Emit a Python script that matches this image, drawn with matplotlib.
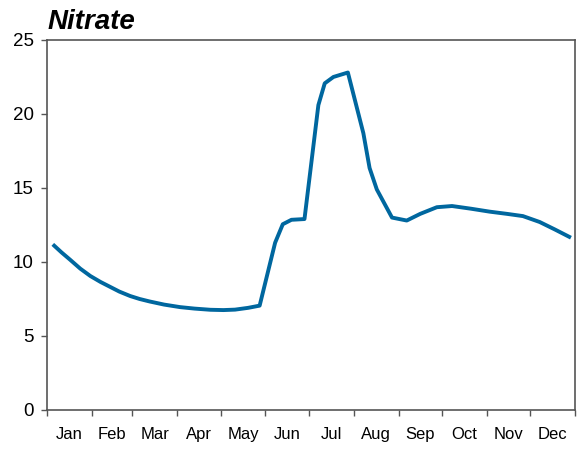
import matplotlib
matplotlib.use('Agg')
import matplotlib.pyplot as plt

# day of year and nitrate values
days = [5, 10, 16, 23, 30, 37, 44, 50, 57.5, 64, 71, 81, 92, 102, 113, 122,
        130, 139, 147, 157.7, 163, 169, 178, 187.6, 192, 198, 208, 218.7,
        223, 228, 238.5, 248.7, 258, 269.5, 280, 293, 306, 318, 329, 340.6,
        351, 361]
nitrate = [11.1, 10.65, 10.15, 9.55, 9.05, 8.65, 8.3, 8.0, 7.7, 7.5, 7.33,
           7.12, 6.95, 6.85, 6.77, 6.75, 6.78, 6.9, 7.05, 11.3, 12.55, 12.85,
           12.9, 20.6, 22.07, 22.5, 22.8, 18.7, 16.35, 14.9, 13.0, 12.8,
           13.25, 13.7, 13.78, 13.6, 13.4, 13.25, 13.1, 12.7, 12.2, 11.7]

month_edges = [0, 31, 59, 90, 120, 151, 181, 212, 243, 273, 304, 334, 365]
months = ['Jan', 'Feb', 'Mar', 'Apr', 'May', 'Jun', 'Jul', 'Aug', 'Sep',
          'Oct', 'Nov', 'Dec']

plt.rcParams['font.family'] = ['Liberation Sans', 'DejaVu Sans']

fig = plt.figure(figsize=(5.78, 4.49), dpi=100)
ax = fig.add_axes([0.0813, 0.0869, 0.9135, 0.8241])

ax.plot(days, nitrate, color='#00679F', linewidth=2.8, solid_joinstyle='round')

ax.set_xlim(0, 365)
ax.set_ylim(0, 25)
ax.set_yticks([0, 5, 10, 15, 20, 25])

ax.set_xticks(month_edges)
ax.set_xticklabels([])
mids = [(month_edges[i] + month_edges[i + 1]) / 2 for i in range(12)]
ax.set_xticks(mids, minor=True)
ax.set_xticklabels(months, minor=True, fontsize=12)

ax.tick_params(axis='x', which='major', direction='out', length=4.5,
               width=1, color='#555555')
ax.tick_params(axis='x', which='minor', length=0, pad=12)
ax.tick_params(axis='y', direction='out', length=4.5, width=1,
               color='#555555', labelsize=13.5, pad=5)

for s in ax.spines.values():
    s.set_color('#555555')
    s.set_linewidth(1.2)

fig.text(0.083, 0.935, 'Nitrate', fontsize=20, fontweight='bold',
         fontstyle='italic', ha='left', va='baseline')

fig.savefig('out.png', dpi=100)
